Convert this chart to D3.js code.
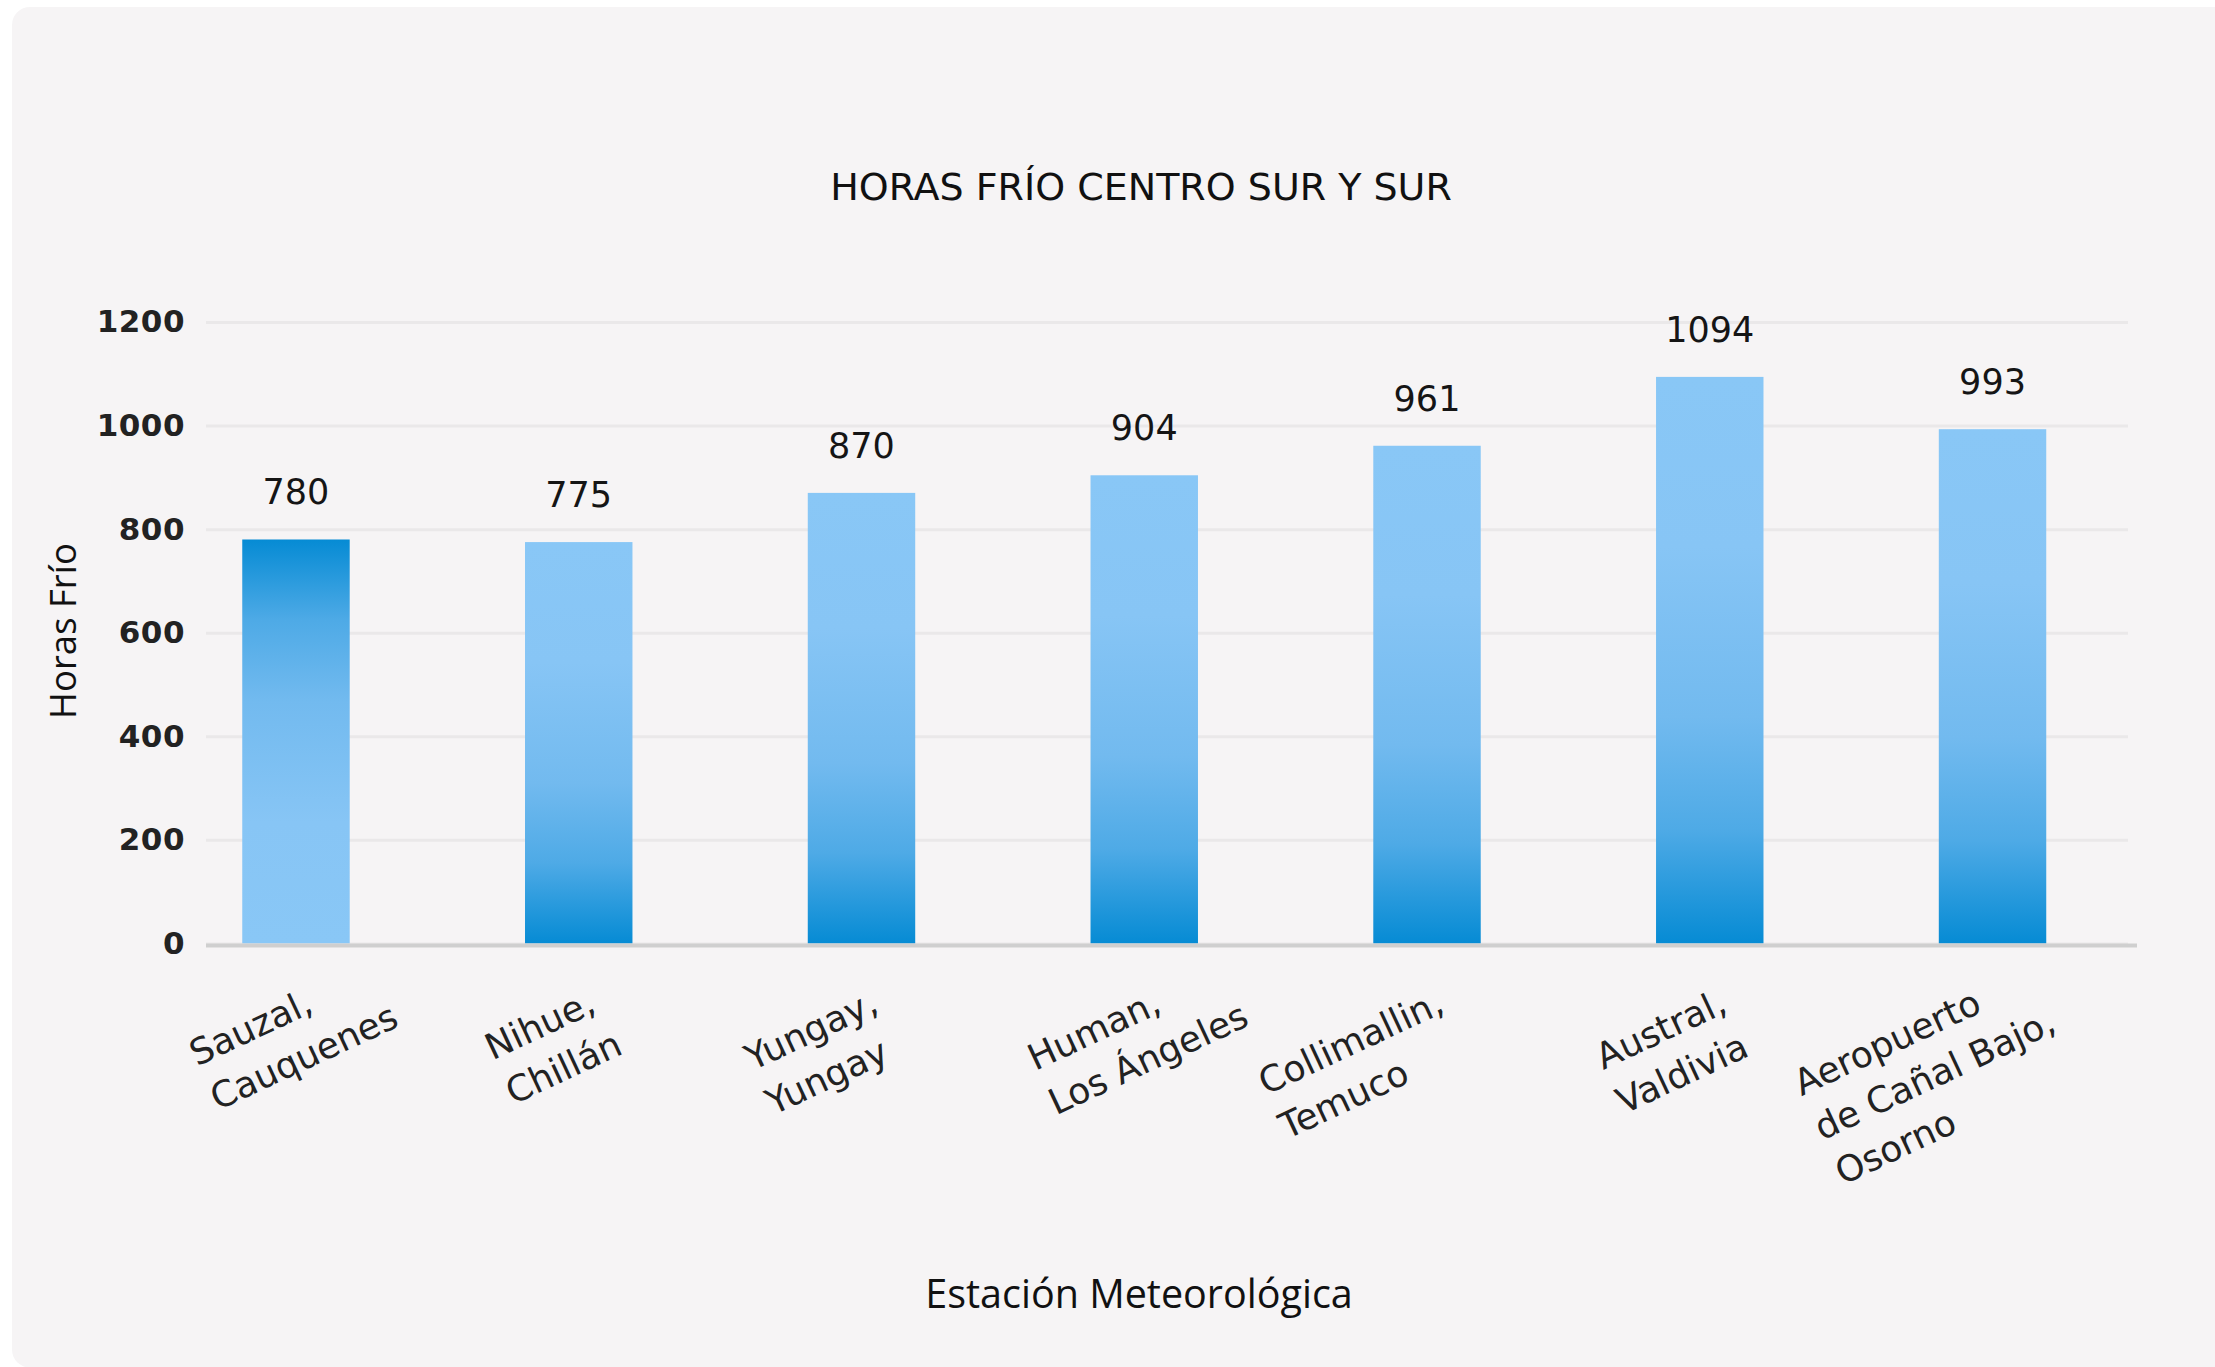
<!DOCTYPE html>
<html>
<head>
<meta charset="utf-8">
<script src="https://cdn.jsdelivr.net/npm/d3@7"></script>
<style>
  html, body { margin: 0; padding: 0; background: #ffffff; }
  svg { display: block; }
</style>
</head>
<body>
<svg id="chart" width="2215" height="1367"></svg>
<script>
// ---- data ----
const categories = [
  "Sauzal, Cauquenes",
  "Nihue, Chillán",
  "Yungay, Yungay",
  "Human, Los Ángeles",
  "Collimallin, Temuco",
  "Austral, Valdivia",
  "Aeropuerto de Cañal Bajo, Osorno"
];
const categoryLines = [
  ["Sauzal,", "Cauquenes"],
  ["Nihue,", "Chillán"],
  ["Yungay,", "Yungay"],
  ["Human,", "Los Ángeles"],
  ["Collimallin,", "Temuco"],
  ["Austral,", "Valdivia"],
  ["Aeropuerto", "de Cañal Bajo,", "Osorno"]
];
const values = [780, 775, 870, 904, 961, 1094, 993];
const yTicks = [0, 200, 400, 600, 800, 1000, 1200];
const yDomain = [0, 1200];
const titleText = "HORAS FRÍO CENTRO SUR Y SUR";
const xTitle = "Estación Meteorológica";
const yTitle = "Horas Frío";

// ---- layout ----
const svg = d3.select("#chart");
const W = 2215, H = 1367;
const plotLeft = 206, gridRight = 2128, axisRight = 2137;
const yBottom = 943.4, yTop = 322;
const monoFont = "'DejaVu Sans', sans-serif";
const humanFont = "'Open Sans', 'Noto Sans', sans-serif";

// card
svg.append("rect")
  .attr("x", 12).attr("y", 7)
  .attr("width", W + 40).attr("height", H - 7 + 0.5)
  .attr("rx", 18).attr("ry", 18)
  .attr("fill", "#f6f4f5");

const y = d3.scaleLinear().domain(yDomain).range([yBottom, yTop]);
const x = d3.scaleBand().domain(categories).range([154.6, 2133.9])
  .paddingInner(0.62).paddingOuter(0.31);

// gradients
const defs = svg.append("defs");
const stops = [[0, "#89c7f6"], [0.3, "#87c5f5"], [0.6, "#72baef"], [0.8, "#4eaae6"], [1, "#068bd4"]];
const gUp = defs.append("linearGradient").attr("id", "gradUp")
  .attr("x1", 0).attr("y1", 0).attr("x2", 0).attr("y2", 1);
stops.forEach(([o, c]) => gUp.append("stop").attr("offset", o).attr("stop-color", c));
const gDown = defs.append("linearGradient").attr("id", "gradDown")
  .attr("x1", 0).attr("y1", 1).attr("x2", 0).attr("y2", 0);
stops.forEach(([o, c]) => gDown.append("stop").attr("offset", o).attr("stop-color", c));

// gridlines
const grid = svg.append("g").attr("transform", `translate(${plotLeft},0)`)
  .call(d3.axisLeft(y).tickValues(yTicks).tickSize(-(gridRight - plotLeft)).tickFormat(""));
grid.select(".domain").remove();
grid.selectAll(".tick line").attr("stroke", "#eae8e9").attr("stroke-width", 3);

// y axis labels
const yAxis = svg.append("g").attr("transform", `translate(${plotLeft},0)`)
  .call(d3.axisLeft(y).tickValues(yTicks).tickSize(0).tickPadding(21).tickFormat(d3.format("d")));
yAxis.select(".domain").remove();
yAxis.selectAll(".tick text")
  .attr("font-family", monoFont).attr("font-weight", "bold")
  .attr("font-size", 31).attr("fill", "#222222")
  .attr("letter-spacing", 0.5);

// bars
svg.append("g").selectAll("rect").data(values).join("rect")
  .attr("x", (d, i) => x(categories[i]))
  .attr("width", x.bandwidth())
  .attr("y", d => y(d))
  .attr("height", d => y(0) - y(d))
  .attr("fill", (d, i) => i === 0 ? "url(#gradDown)" : "url(#gradUp)");

// x axis line
svg.append("line")
  .attr("x1", plotLeft).attr("x2", axisRight)
  .attr("y1", yBottom + 2).attr("y2", yBottom + 2)
  .attr("stroke", "#cfcfcf").attr("stroke-width", 4);

// value labels
svg.append("g").selectAll("text").data(values).join("text")
  .attr("x", (d, i) => x(categories[i]) + x.bandwidth() / 2)
  .attr("y", d => y(d) - 35)
  .attr("text-anchor", "middle")
  .attr("font-family", monoFont).attr("font-size", 35)
  .attr("fill", "#151515")
  .text(d => d);

// category labels (rotated, multi-line)
const lh = 49;
categories.forEach((c, i) => {
  const lines = categoryLines[i];
  const extra = lines.length - 2;
  const ax = x(c) + x.bandwidth() / 2 + 19 - 28 * extra;
  const ay = yBottom + 68;
  const g = svg.append("g").attr("transform", `translate(${ax},${ay}) rotate(-25)`);
  const first = g.append("text")
    .attr("x", 0).attr("y", 0).attr("text-anchor", "end")
    .attr("font-family", monoFont).attr("font-size", 36).attr("fill", "#222222")
    .text(lines[0]);
  const L1 = first.node().getComputedTextLength();
  lines.slice(1).forEach((t, j) => {
    g.append("text")
      .attr("x", -L1).attr("y", (j + 1) * lh).attr("text-anchor", "start")
      .attr("font-family", monoFont).attr("font-size", 36).attr("fill", "#222222")
      .text(t);
  });
});

// title
svg.append("text")
  .attr("x", 1141).attr("y", 200)
  .attr("text-anchor", "middle")
  .attr("font-family", monoFont).attr("font-size", 38)
  .attr("fill", "#111111")
  .text(titleText);

// x axis title
svg.append("text")
  .attr("x", 1139).attr("y", 1308)
  .attr("text-anchor", "middle")
  .attr("font-family", humanFont).attr("font-size", 39.5)
  .attr("fill", "#111111")
  .text(xTitle);

// y axis title
svg.append("text")
  .attr("transform", `translate(76,631) rotate(-90)`)
  .attr("text-anchor", "middle")
  .attr("font-family", humanFont).attr("font-size", 36.5)
  .attr("fill", "#111111")
  .text(yTitle);
</script>
</body>
</html>
